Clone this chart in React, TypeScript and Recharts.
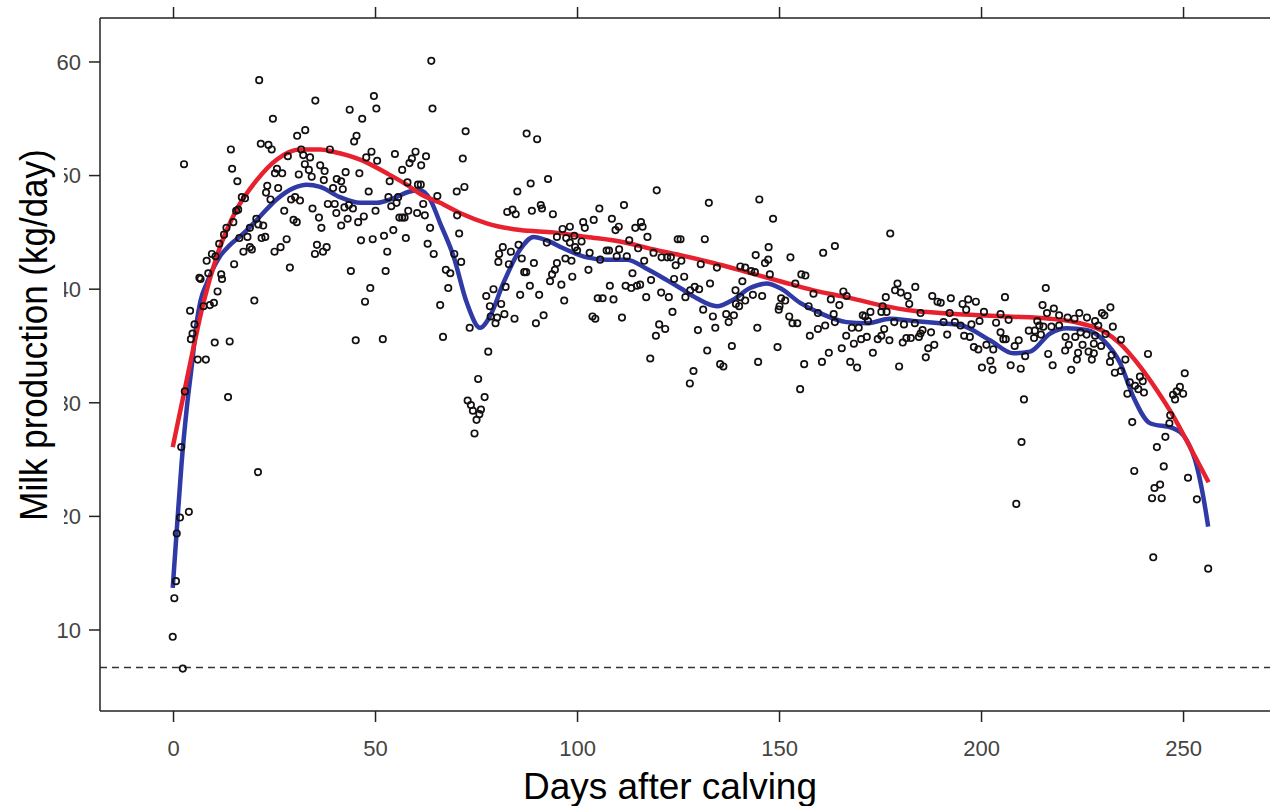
import React from 'react';
import { ComposedChart, Scatter, Line, XAxis, YAxis, ReferenceLine } from 'recharts';

type P = [number, number];

// Daily milk records: [days after calving, kg/day]
const earlyPoints: P[] = [
  [21.2,58.4],[35.1,56.6],[49.6,57.0],[50.2,55.9],[43.6,55.8],[46.7,55.0],[24.6,55.0],[32.6,54.0],[30.6,53.5],[45.3,53.5],
  [44.7,53.0],[21.6,52.8],[23.5,52.7],[24.3,52.3],[14.2,52.3],[2.6,51.0],[31.6,52.3],[32.1,51.8],[33.8,51.6],[38.7,52.3],
  [49.0,52.1],[47.7,51.6],[50.4,51.3],[54.8,51.9],[59.9,52.1],[59.0,51.5],[58.4,51.1],[32.5,51.0],[36.3,50.9],[28.3,51.7],
  [14.5,50.6],[25.6,50.6],[25.1,50.2],[26.9,50.2],[33.5,50.5],[37.4,50.4],[31.0,50.1],[34.2,49.9],[42.6,50.3],[46.0,50.2],
  [56.6,50.5],[15.8,49.5],[23.2,49.1],[25.9,48.9],[37.2,49.6],[40.4,49.7],[41.5,49.5],[39.5,48.9],[41.9,48.8],[48.3,48.6],
  [53.5,49.5],[57.9,49.4],[60.5,49.2],[22.9,48.5],[16.9,48.1],[17.7,48.0],[24.0,47.9],[30.1,48.1],[29.1,47.9],[31.3,47.8],
  [53.2,48.1],[55.6,48.1],[38.2,47.5],[39.9,47.5],[43.4,47.4],[42.3,47.2],[44.4,47.1],[53.9,47.3],[55.2,47.6],[15.5,46.9],
  [16.0,47.0],[27.4,46.9],[34.4,47.1],[40.3,46.7],[50.0,46.9],[58.1,46.9],[60.3,46.7],[14.8,45.9],[20.5,46.2],[29.7,46.1],
  [30.5,45.9],[36.0,46.3],[43.1,46.2],[45.7,45.9],[47.1,46.4],[55.9,46.3],[56.6,46.3],[57.2,46.3],[13.1,45.4],[18.9,45.4],
  [21.0,45.7],[22.2,45.6],[36.6,45.4],[41.5,45.6],[54.4,45.2],[12.5,44.8],[16.3,44.5],[18.3,44.6],[21.8,44.5],[22.7,44.6],
  [28.0,44.4],[46.4,44.3],[49.3,44.4],[52.1,44.7],[57.5,44.5],[11.3,44.0],[35.5,43.9],[37.9,43.7],[9.5,43.1],[10.4,42.9],
  [8.2,42.5],[18.9,43.7],[19.4,43.5],[17.3,43.3],[25.0,43.3],[26.5,43.7],[35.0,43.1],[37.0,43.3],[52.9,43.3],[15.0,42.2],
  [28.8,41.9],[43.9,41.6],[52.5,41.6],[6.4,41.0],[6.7,40.9],[11.8,41.3],[12.0,40.9],[8.6,41.4],[48.7,40.1],[10.9,39.8],
  [7.4,38.5],[9.0,38.6],[10.0,38.8],[4.1,38.1],[20.0,39.0],[47.4,38.9],[5.2,36.9],[4.7,36.1],[4.3,35.6],[10.2,35.3],
  [13.9,35.4],[45.1,35.5],[51.8,35.6],[6.0,33.8],[8.0,33.8],[13.5,30.5],[2.8,31.0],[1.9,26.1],[20.9,23.9],[3.8,20.4],
  [1.6,19.9],[0.8,18.5],[0.6,14.3],[0.2,12.8],[-0.2,9.4],[2.3,6.6],
];

const midPoints: P[] = [
  [63.8,60.1],[64.1,55.9],[72.3,53.9],[87.4,53.7],[90.0,53.2],[62.5,51.7],[61.3,50.9],[71.6,51.5],[92.7,49.7],[88.4,49.3],
  [61.2,49.2],[70.1,48.6],[72.0,49.0],[85.1,48.6],[119.6,48.7],[65.3,48.2],[61.8,47.5],[90.9,47.4],[91.2,47.1],[88.7,46.9],
  [82.6,46.8],[83.9,47.0],[84.7,46.6],[93.9,46.6],[105.4,47.1],[111.5,47.4],[62.2,46.5],[70.2,46.5],[101.4,45.9],[104.0,46.1],
  [108.5,46.2],[115.7,45.9],[63.5,45.4],[96.3,45.3],[98.1,45.5],[101.8,45.4],[110.2,45.5],[109.4,45.2],[114.3,45.4],[116.1,45.5],
  [70.7,44.9],[94.9,44.6],[97.2,44.5],[99.2,44.7],[117.3,44.6],[124.8,44.4],[92.4,44.1],[98.1,44.1],[101.0,44.2],[112.8,44.3],
  [62.9,44.0],[85.4,43.9],[81.5,43.7],[99.4,43.7],[99.9,43.4],[107.2,43.4],[107.8,43.4],[110.3,43.5],[115.0,43.6],[64.4,43.1],
  [69.5,43.1],[80.6,43.1],[83.5,43.3],[103.0,43.2],[118.8,43.2],[120.8,42.8],[122.2,42.8],[123.1,42.8],[124.3,42.1],[86.2,42.7],
  [97.0,42.7],[98.5,42.5],[105.6,42.6],[109.7,42.9],[112.2,42.9],[80.4,42.4],[71.2,42.4],[83.0,42.2],[89.2,42.3],[94.9,42.3],
  [116.5,42.5],[94.4,41.7],[102.7,41.7],[67.4,41.7],[68.5,41.4],[86.8,41.5],[87.3,41.5],[93.7,41.3],[98.7,41.1],[113.6,41.4],
  [118.2,40.8],[123.9,40.9],[93.2,40.7],[82.2,40.2],[79.2,40.0],[88.2,40.3],[96.0,40.4],[108.0,40.3],[111.9,40.3],[113.3,40.1],
  [114.7,40.3],[115.5,40.4],[68.0,40.1],[77.4,39.4],[85.8,39.5],[90.5,39.5],[105.0,39.2],[106.2,39.2],[108.9,39.1],[117.0,39.3],
  [120.7,39.7],[122.6,39.3],[96.7,39.0],[66.0,38.6],[78.3,38.5],[81.1,38.7],[78.5,37.6],[80.1,37.5],[81.9,37.8],[84.4,37.4],
  [91.6,37.7],[103.7,37.6],[104.4,37.4],[111.0,37.5],[123.5,38.0],[79.7,37.0],[89.7,37.0],[73.3,36.6],[120.2,36.9],[121.7,36.5],
  [119.4,35.9],[66.7,35.8],[77.9,34.5],[75.4,32.1],[77.0,30.5],[72.8,30.2],[73.6,29.8],[74.1,29.3],[76.1,29.4],[75.7,29.0],
  [75.0,28.5],[74.5,27.3],[118.0,33.9],
];

const plateauPoints: P[] = [
  [132.5,47.6],[145.0,47.9],[148.4,46.2],[177.4,44.9],[131.5,44.4],[125.5,44.4],[147.3,43.7],[163.7,43.8],[160.8,43.2],[144.1,43.0],
  [152.7,42.8],[147.2,42.6],[146.4,42.3],[125.7,42.5],[130.5,42.2],[140.3,42.0],[141.5,41.9],[134.5,41.9],[143.0,41.6],[143.9,41.5],
  [155.4,41.3],[156.4,41.2],[126.4,41.1],[147.6,41.3],[140.8,40.7],[132.8,40.5],[153.9,40.5],[179.2,40.5],[183.6,40.2],[129.0,40.2],
  [130.1,40.0],[127.9,39.9],[139.1,39.9],[158.4,39.6],[165.8,39.8],[178.6,39.9],[180.0,39.7],[126.7,39.3],[143.4,39.5],[141.5,39.0],
  [145.7,39.4],[140.3,39.3],[150.4,39.2],[151.4,39.0],[166.6,39.4],[176.3,39.3],[181.7,39.4],[187.8,39.4],[189.1,38.9],[139.2,38.7],
  [140.0,38.5],[150.0,38.5],[157.2,38.5],[162.7,39.1],[164.8,38.6],[175.5,38.5],[182.1,38.7],[149.8,38.2],[136.8,37.8],[138.7,37.7],
  [131.1,38.2],[159.5,37.9],[163.4,37.8],[170.6,37.7],[172.5,38.0],[175.2,38.0],[176.5,38.0],[184.9,37.9],[133.5,37.6],[152.4,37.6],
  [171.2,37.6],[137.4,37.1],[153.2,37.0],[154.4,37.0],[161.3,36.8],[163.7,37.1],[171.9,37.2],[178.4,37.1],[180.8,36.9],[183.5,37.0],
  [129.8,36.4],[134.1,36.6],[144.5,36.6],[159.5,36.5],[167.9,36.6],[169.6,36.6],[175.9,36.5],[187.5,36.2],[185.4,36.4],[184.9,36.1],
  [157.5,35.9],[166.5,35.9],[171.6,35.8],[170.2,35.6],[174.3,35.6],[175.2,35.9],[177.2,35.5],[181.4,35.7],[182.5,35.7],[184.5,35.8],
  [180.5,35.3],[188.3,35.1],[168.4,35.2],[138.2,35.0],[149.5,34.9],[132.1,34.6],[165.4,34.8],[162.2,34.4],[173.1,34.4],[186.8,34.8],
  [186.2,34.0],[144.7,33.6],[135.3,33.4],[136.1,33.2],[156.1,33.4],[160.5,33.6],[167.5,33.6],[169.2,33.1],[179.6,33.2],[128.7,32.8],
  [127.8,31.7],[155.1,31.2],
];

const latePoints: P[] = [
  [215.9,40.1],[205.8,39.3],[192.4,39.2],[196.7,39.1],[198.6,38.9],[195.3,38.7],[215.1,38.6],[231.9,38.4],[217.9,38.3],[196.2,38.2],
  [189.9,38.8],[200.6,38.0],[192.1,37.9],[204.7,37.8],[219.2,37.7],[224.2,37.9],[229.8,37.9],[230.4,37.7],[226.1,37.5],[216.2,37.9],
  [221.3,37.5],[223.0,37.4],[199.5,37.2],[206.7,37.3],[228.1,37.2],[213.8,37.2],[203.6,37.05],[193.4,37.1],[190.6,37.1],[228.9,36.8],
  [214.3,36.8],[219.2,36.8],[217.3,36.7],[232.5,36.7],[215.3,36.7],[211.7,36.35],[213.2,36.35],[204.7,36.2],[197.5,36.9],[194.8,36.8],
  [191.5,36.0],[195.7,35.9],[197.1,35.8],[220.8,35.8],[223.2,35.8],[224.5,36.2],[226.0,36.0],[228.1,35.9],[230.7,36.05],[213.0,35.7],
  [214.7,36.0],[205.4,35.6],[206.0,35.6],[209.2,35.5],[234.5,35.55],[201.2,35.1],[221.6,35.1],[225.0,35.1],[227.8,35.2],[229.6,35.0],
  [208.2,35.0],[198.1,34.9],[199.2,34.7],[202.9,34.7],[210.8,34.1],[216.5,34.3],[220.7,34.6],[223.9,34.4],[226.5,34.5],[227.8,34.35],
  [223.6,33.8],[227.3,33.8],[232.2,34.2],[231.8,33.6],[235.6,33.8],[241.2,34.3],[202.2,33.7],[207.2,33.3],[217.6,33.3],[200.1,33.1],
  [202.7,32.9],[209.7,33.0],[222.2,32.9],[233.0,32.65],[234.5,32.8],[250.3,32.6],[239.2,32.3],[236.7,31.8],[238.0,31.5],[238.8,31.2],
  [240.2,30.9],[239.9,31.9],[236.1,30.8],[249.1,31.4],[248.3,31.0],[247.4,30.7],[249.9,30.8],[247.9,30.3],[210.5,30.3],[246.7,28.9],
  [237.3,28.3],[246.5,28.2],[245.5,27.0],[209.9,26.55],[243.4,26.1],[245.1,24.4],[237.8,24.0],[251.1,23.4],[244.2,22.8],[242.8,22.5],
  [242.2,21.6],[244.6,21.6],[253.3,21.5],[208.6,21.1],[242.5,16.4],[256.1,15.4],
];

// Fitted lactation curves
const redCurve: P[] = [
  [-0.2,26.1],[4.9,34.8],[7.4,38.8],[11.0,43.2],[15.6,47.0],[20.6,49.6],[25.5,51.4],[31.3,52.3],[36.3,52.3],[39.5,52.1],
  [46.2,51.4],[52.8,50.2],[57.7,49.2],[61.0,48.4],[66.0,47.6],[70.9,46.7],[77.5,45.8],[85.8,45.2],[94.0,45.0],[102.3,44.6],
  [110.5,44.2],[118.8,43.5],[125.4,43.0],[133.6,42.3],[141.9,41.5],[150.1,40.7],[158.4,39.9],[166.6,39.3],[174.9,38.6],[183.1,38.1],
  [189.7,37.9],[206.2,37.6],[217.0,37.4],[224.4,37.0],[230.2,36.3],[234.3,35.2],[239.2,33.2],[243.4,31.1],[247.5,28.8],[251.6,26.1],
  [256.2,23.0],
];

const blueCurve: P[] = [
  [-0.2,13.7],[0.8,18.8],[2.0,24.7],[3.3,29.6],[4.6,33.5],[5.7,37.0],[6.7,39.0],[8.2,40.5],[11.5,42.9],[14.0,43.9],
  [17.3,44.9],[21.4,46.4],[25.5,47.9],[29.7,48.9],[33.0,49.2],[36.3,49.0],[41.2,48.1],[46.2,47.6],[50.3,47.6],[54.4,48.0],
  [58.5,48.6],[61.0,48.7],[63.5,47.9],[66.0,45.8],[69.3,42.9],[72.6,38.8],[75.9,36.6],[78.3,37.6],[81.6,40.5],[85.8,43.5],
  [89.1,44.6],[92.4,44.3],[96.5,43.6],[102.3,42.8],[107.2,42.6],[112.2,42.6],[117.1,41.8],[122.1,40.8],[125.4,40.1],[129.5,39.2],
  [134.5,38.5],[138.6,39.1],[142.7,40.1],[146.8,40.5],[150.1,40.1],[155.1,38.8],[160.0,37.9],[166.6,37.1],[171.6,37.0],[177.4,37.4],
  [183.1,37.2],[189.7,37.0],[194.7,36.85],[202.1,35.5],[207.9,34.35],[212.0,34.5],[217.0,36.1],[221.1,36.55],[226.0,36.4],[230.2,35.5],
  [234.3,33.5],[237.6,30.5],[241.7,28.2],[247.5,27.75],[250.8,26.7],[253.3,24.4],[254.9,21.7],[256.1,19.1],
];

const xTicks = [0, 50, 100, 150, 200, 250];
const yTicks = [10, 20, 30, 40, 50, 60];
// tick labels partly hidden behind the y-axis title in the source figure
const yTicksBesideTitle = [20, 30, 40, 50];
const xDomain: [number, number] = [-18.2, 271.4];
const yDomain: [number, number] = [2.87, 63.87];
const thresholdKg = 6.7;
const xTitle = 'Days after calving';
const yTitle = 'Milk production (kg/day)';

const toRows = (pts: P[]) => pts.map(([d, kg]) => ({ d, kg }));
const scatterRows = toRows([...earlyPoints, ...midPoints, ...plateauPoints, ...latePoints]);
const redRows = toRows(redCurve);
const blueRows = toRows(blueCurve);

const FONT = '"Liberation Sans", Arial, Helvetica, sans-serif';
const AXIS = '#222';
const Y_LABEL_RIGHT = 81; // right edge of the y tick labels
const TITLE_BOX_RIGHT = 64; // right edge of the y title box that hides part of the labels

const Ring = (props: any) => {
  if (props.cx == null || props.cy == null) return null;
  return <circle cx={props.cx} cy={props.cy} r={3.2} fill="none" stroke="#141010" strokeWidth={1.7} />;
};

const renderXTitle = () => (
  <text x={670} y={799} textAnchor="middle" fontSize={37} fontFamily={FONT} fill="#000">
    {xTitle}
  </text>
);

const renderYTitle = () => (
  <text
    transform="translate(47, 335) rotate(-90) scale(1, 1.1)"
    x={0}
    y={0}
    textAnchor="middle"
    fontSize={35}
    fontFamily={FONT}
    fill="#000"
  >
    {yTitle}
  </text>
);

const YTick = (props: any) => {
  const { y, payload } = props;
  const v = Number(payload && payload.value);
  const hidden = yTicksBesideTitle.includes(v);
  const id = `yclip-${v}`;
  const ty = Number(y);
  return (
    <g>
      {hidden && (
        <defs>
          <clipPath id={id} clipPathUnits="userSpaceOnUse">
            <rect x={TITLE_BOX_RIGHT} y={ty - 20} width={40} height={40} />
          </clipPath>
        </defs>
      )}
      <text
        x={Y_LABEL_RIGHT}
        y={ty}
        dy="0.355em"
        textAnchor="end"
        fontSize={22}
        fontFamily={FONT}
        fill="#444"
        clipPath={hidden ? `url(#${id})` : undefined}
      >
        {v}
      </text>
    </g>
  );
};

const tickStyle = { fontSize: 22, fill: '#444', fontFamily: FONT };

export default function App() {
  return (
    <div style={{ position: 'absolute', left: 0, top: 0, width: 1270, height: 806, background: '#fff' }}>
      <ComposedChart width={1270} height={806} margin={{ top: 17, right: 0, bottom: 0, left: 0 }}>
        <XAxis
          xAxisId="bottom"
          dataKey="d"
          type="number"
          domain={xDomain}
          ticks={xTicks}
          interval={0}
          allowDataOverflow
          height={95}
          tickSize={11}
          tickMargin={18}
          axisLine={{ stroke: AXIS, strokeWidth: 1.5 }}
          tickLine={{ stroke: AXIS, strokeWidth: 1.5 }}
          tick={tickStyle}
          label={renderXTitle}
        />
        <XAxis
          xAxisId="top"
          orientation="top"
          dataKey="d"
          type="number"
          domain={xDomain}
          ticks={xTicks}
          interval={0}
          allowDataOverflow
          height={1}
          tickSize={11}
          tickMargin={0}
          tickFormatter={() => ''}
          axisLine={{ stroke: AXIS, strokeWidth: 1.5 }}
          tickLine={{ stroke: AXIS, strokeWidth: 1.5 }}
          tick={tickStyle}
        />
        <YAxis
          dataKey="kg"
          type="number"
          domain={yDomain}
          ticks={yTicks}
          interval={0}
          allowDataOverflow
          width={100}
          tickSize={11}
          tickMargin={0}
          axisLine={{ stroke: AXIS, strokeWidth: 1.5 }}
          tickLine={{ stroke: AXIS, strokeWidth: 1.5 }}
          tick={(p: any) => <YTick {...p} />}
          label={renderYTitle}
        />
        <ReferenceLine xAxisId="bottom" y={thresholdKg} stroke="#333" strokeWidth={1.5} strokeDasharray="7 5" />
        <Scatter xAxisId="bottom" data={scatterRows} dataKey="kg" shape={Ring} isAnimationActive={false} />
        <Line
          xAxisId="bottom"
          data={blueRows}
          dataKey="kg"
          type="monotone"
          stroke="#2f3aa6"
          strokeWidth={4.5}
          dot={false}
          activeDot={false}
          isAnimationActive={false}
        />
        <Line
          xAxisId="bottom"
          data={redRows}
          dataKey="kg"
          type="monotone"
          stroke="#e8212e"
          strokeWidth={4.5}
          dot={false}
          activeDot={false}
          isAnimationActive={false}
        />
      </ComposedChart>
    </div>
  );
}
